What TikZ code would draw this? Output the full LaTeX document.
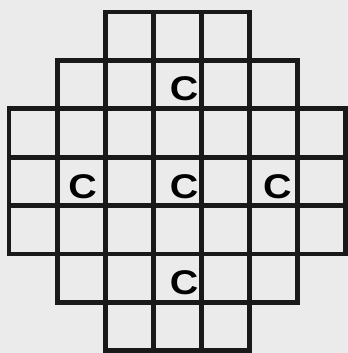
\documentclass[tikz,border=0pt]{standalone}
\usepackage{fontspec}
\setsansfont{Liberation Sans}
\usepackage{tikz}

\begin{document}
\begin{tikzpicture}[x=0.962cm,y=-0.968cm,
  cell/.style={draw=black!90,line width=2.8pt},
  core/.style={font=\sffamily\bfseries\fontsize{19.5}{21}\selectfont,xscale=1.15,inner sep=0pt}]
  % page: 348x353 px, grid origin at (9,12) px, cell ~48 px
  \useasboundingbox[fill=black!8] (-0.187,-0.248) rectangle (7.047,7.045);
  % rows: row/first column/last column
  \foreach \r/\a/\b in {1/3/5, 2/2/6, 3/1/7, 4/1/7, 5/1/7, 6/2/6, 7/3/5}{
    \foreach \c in {\a,...,\b}{
      \draw[cell] (\c-1,\r-1) rectangle (\c,\r);}}
  % control cells
  \node[core] (c24) at (3.64,1.58){C};
  \node[core] (c42) at (1.53,3.6){C};
  \node[core] (c44) at (3.64,3.6){C};
  \node[core] (c46) at (5.58,3.6){C};
  \node[core] (c64) at (3.64,5.6){C};
\end{tikzpicture}
\end{document}
